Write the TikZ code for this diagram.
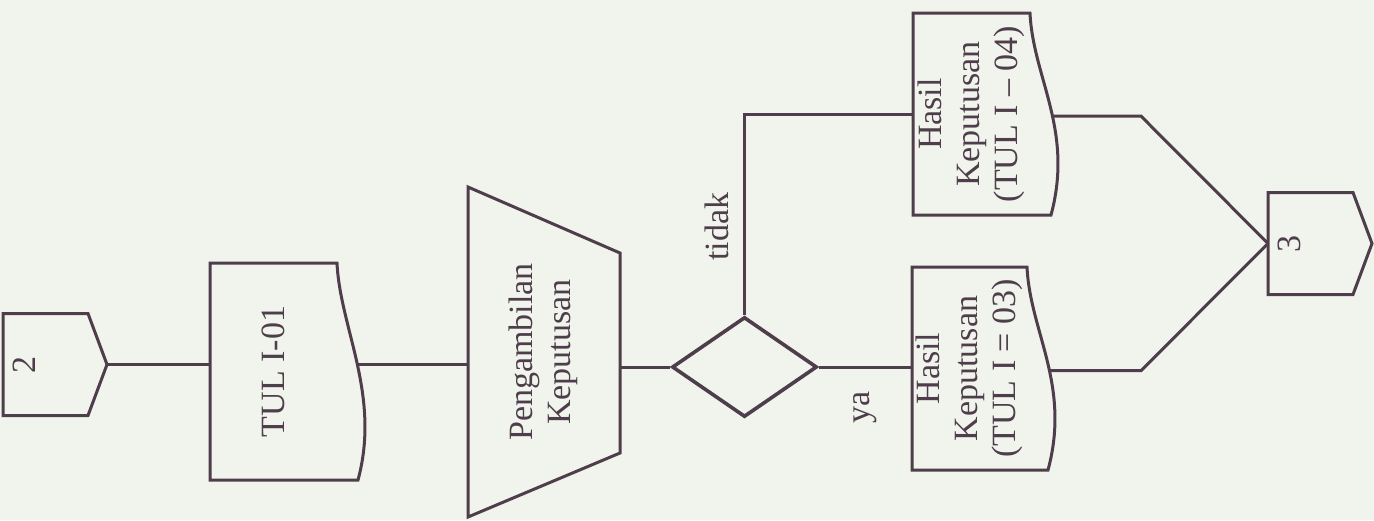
\documentclass[tikz,border=0pt]{standalone}
\usepackage{fontspec}
\setmainfont{Liberation Serif}
\usepackage{graphicx}
\usetikzlibrary{calc,shapes.geometric}

\definecolor{ink}{HTML}{4E3D4A}
\definecolor{paper}{HTML}{F1F4EC}

% rotated text, one or more lines
\newcommand{\vtext}[1]{\rotatebox{90}{\begin{tabular}{@{}c@{}}#1\end{tabular}}}
% off-page connector border
\newcommand{\pagecon}[1]{%
  \draw[flow] (#1.north west) -- ($(#1.north east)+(-19,0)$) -- (#1.east)
    -- ($(#1.south east)+(-19,0)$) -- (#1.south west) -- cycle;}
% document border, wavy side to the right
\newcommand{\docshape}[2]{%
  \draw[flow] (#1.north west) -- (#1.north east)
    .. controls ($(#1.north east)+(3,65)$) and ($(#1.south east)+(44,-85)$) ..
    coordinate[pos=#2] (#1out) ($(#1.south east)+(21,0)$)
    -- (#1.south west) -- cycle;}

\tikzset{
  every node/.style={font=\fontsize{34}{38}\selectfont, text=ink},
  flow/.style={draw=ink, line width=3pt},
  box/.style={rectangle, inner sep=0pt, outer sep=0pt},
  pagebox/.style={box, minimum height=102pt, text width=84pt, inner xsep=10pt, align=left},
  decision/.style={diamond, draw=ink, line width=3.6pt, minimum width=145pt, minimum height=100pt, inner sep=0pt},
  lbl/.style={inner sep=0pt}
}

\begin{document}
\begin{tikzpicture}[x=1pt,y=-1pt]
  \fill[paper] (0,0) rectangle (1374,520);
  \useasboundingbox (0,0) rectangle (1374,520);

  \node[pagebox] (c2) at (55,364.5) {\rotatebox{90}{2}};
  \node[box, minimum width=127pt, minimum height=217pt] (tul) at (273.5,371.5) {\rotatebox{90}{TUL I-01}};
  \node[box, minimum width=152pt, minimum height=330pt] (pk) at (544,352) {\vtext{Pengambilan\\Keputusan}};
  \node[decision] (dec) at (744.5,367) {};
  \node[box, minimum width=117pt, minimum height=202pt] (hn) at (971.5,114) {\vtext{Hasil\\Keputusan\\(TUL I – 04)}};
  \node[box, minimum width=115pt, minimum height=203pt] (hy) at (969.5,368.5) {\vtext{Hasil\\Keputusan\\(TUL I = 03)}};
  \node[pagebox] (c3) at (1320,243.5) {\rotatebox{90}{3}};
  \coordinate (mrg) at (1141,243.5);

  \pagecon{c2}
  \pagecon{c3}
  \docshape{tul}{0.5}
  \docshape{hn}{0.55}
  \docshape{hy}{0.55}
  \draw[flow] (pk.north west) -- ($(pk.north east)+(0,66)$)
    -- ($(pk.south east)+(0,-64)$) -- (pk.south west) -- cycle;

  \draw[flow] (c2.east) -- (tul.west |- c2.east);
  \draw[flow] (tulout) -- (tulout -| pk.west);
  \draw[flow] (pk.east |- dec.west) -- (dec.west);
  \draw[flow] (dec.north) |- node[lbl, pos=.22, left=14pt] (ltidak) {\rotatebox{90}{tidak}} (hn.west);
  \draw[flow] (dec.east) -- node[lbl, below=23pt] (lya) {\rotatebox{90}{ya}} (dec.east -| hy.west);
  \draw[flow] (hnout) -- (hnout -| mrg) -- (c3.west);
  \draw[flow] (hyout) -- (hyout -| mrg) -- (c3.west);
\end{tikzpicture}
\end{document}
